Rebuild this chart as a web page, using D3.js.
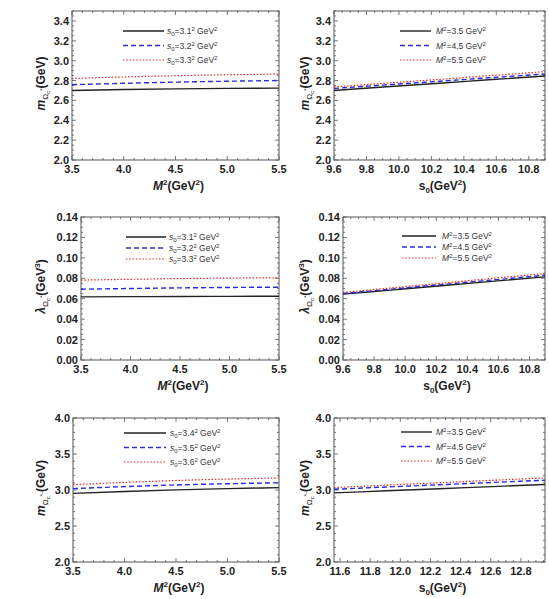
<!DOCTYPE html>
<html>
<head>
<meta charset="utf-8">
<title>Omega_c sum rules</title>
<script src="https://d3js.org/d3.v7.min.js"></script>
<style>
  body { margin: 0; background: #fff; }
  svg { display: block; }
  text { font-family: "Liberation Sans", Arial, sans-serif; }
  .tick-label { font-size: 11px; font-weight: bold; fill: #222; }
  .axis-title { font-size: 12px; font-weight: bold; fill: #222; }
  .legend-text { font-size: 8.5px; fill: #333; }
</style>
</head>
<body>
<svg width="549" height="599"></svg>
<script>
// x grids
const m2Grid = [3.5, 4.0, 4.5, 5.0, 5.5];
const s0GridTop = [9.6, 9.925, 10.25, 10.575, 10.9];
const s0GridBottom = [11.56, 11.91, 12.26, 12.61, 12.96];

// row 1: mass vs M^2 (s0 = 3.1^2, 3.2^2, 3.3^2)
const massVsM2_a = [2.700, 2.709, 2.716, 2.721, 2.724];
const massVsM2_b = [2.758, 2.772, 2.784, 2.793, 2.800];
const massVsM2_c = [2.820, 2.836, 2.849, 2.858, 2.865];
// row 1: mass vs s0 (M^2 = 3.5, 4.5, 5.5)
const massVsS0_a = [2.700, 2.737, 2.773, 2.810, 2.846];
const massVsS0_b = [2.720, 2.757, 2.793, 2.830, 2.866];
const massVsS0_c = [2.735, 2.774, 2.812, 2.851, 2.890];

// row 2: pole residue vs M^2
const lambdaVsM2_a = [0.0618, 0.0620, 0.0622, 0.0623, 0.0624];
const lambdaVsM2_b = [0.0693, 0.0700, 0.0706, 0.0710, 0.0713];
const lambdaVsM2_c = [0.0782, 0.0790, 0.0797, 0.0802, 0.0805];
// row 2: pole residue vs s0
const lambdaVsS0_a = [0.0645, 0.0687, 0.0729, 0.0772, 0.0814];
const lambdaVsS0_b = [0.0651, 0.0696, 0.0741, 0.0785, 0.0830];
const lambdaVsS0_c = [0.0661, 0.0708, 0.0754, 0.0801, 0.0847];

// row 3: mass vs M^2 (s0 = 3.4^2, 3.5^2, 3.6^2)
const mass2VsM2_a = [2.953, 2.980, 3.002, 3.019, 3.033];
const mass2VsM2_b = [3.019, 3.047, 3.070, 3.087, 3.100];
const mass2VsM2_c = [3.074, 3.106, 3.132, 3.152, 3.167];
// row 3: mass vs s0
const mass2VsS0_a = [2.960, 2.989, 3.018, 3.047, 3.076];
const mass2VsS0_b = [3.010, 3.042, 3.073, 3.105, 3.136];
const mass2VsS0_c = [3.034, 3.068, 3.101, 3.135, 3.168];

const legendS0Top = ["3.1", "3.2", "3.3"];
const legendS0Bottom = ["3.4", "3.5", "3.6"];
const legendM2 = ["3.5", "4.5", "5.5"];

const seriesStyles = [
  { color: "#222222", dash: null, width: 1.4 },
  { color: "#2b2bd6", dash: "5,3", width: 1.4 },
  { color: "#e02a2a", dash: "1.5,1.8", width: 1.2 }
];

const svg = d3.select("svg");

const panels = [
  { box: [72, 11, 279, 160], xGrid: m2Grid, xDom: [3.5, 5.5], xMajor: 0.5, xMinor: 0.1, xFmt: ".1f",
    yDom: [2.0, 3.5], yMajor: 0.2, yMinor: 0.05, yMax: 3.4, yFmt: ".1f", yTitleX: 45,
    series: [massVsM2_a, massVsM2_b, massVsM2_c], legend: "s0", legendVals: legendS0Top,
    leg: [123, 164, 167, 31, 14.5], xTitle: "M2", yTitle: "m", yKind: "*" },
  { box: [334, 11, 545, 160], xGrid: s0GridTop, xDom: [9.6, 10.9], xMajor: 0.2, xMinor: 0.05, xFmt: ".1f",
    yDom: [2.0, 3.5], yMajor: 0.2, yMinor: 0.05, yMax: 3.4, yFmt: ".1f", yTitleX: 309,
    series: [massVsS0_a, massVsS0_b, massVsS0_c], legend: "M2", legendVals: legendM2,
    leg: [400, 431, 436, 31, 14.5], xTitle: "s0", yTitle: "m", yKind: "*" },
  { box: [81, 217, 279, 360], xGrid: m2Grid, xDom: [3.5, 5.5], xMajor: 0.5, xMinor: 0.1, xFmt: ".1f",
    yDom: [0, 0.14], yMajor: 0.02, yMinor: 0.005, yMax: 0.14, yFmt: ".2f", yTitleX: 45,
    series: [lambdaVsM2_a, lambdaVsM2_b, lambdaVsM2_c], legend: "s0", legendVals: legendS0Top,
    leg: [126, 166, 169, 237, 11], xTitle: "M2", yTitle: "lambda", yKind: "*" },
  { box: [343, 217, 545, 360], xGrid: s0GridTop, xDom: [9.6, 10.9], xMajor: 0.2, xMinor: 0.05, xFmt: ".1f",
    yDom: [0, 0.14], yMajor: 0.02, yMinor: 0.005, yMax: 0.14, yFmt: ".2f", yTitleX: 309,
    series: [lambdaVsS0_a, lambdaVsS0_b, lambdaVsS0_c], legend: "M2", legendVals: legendM2,
    leg: [402, 436, 442, 236, 11], xTitle: "s0", yTitle: "lambda", yKind: "*" },
  { box: [73, 418, 279, 562], xGrid: m2Grid, xDom: [3.5, 5.5], xMajor: 0.5, xMinor: 0.1, xFmt: ".1f",
    yDom: [2.0, 4.0], yMajor: 0.5, yMinor: 0.1, yMax: 4.0, yFmt: ".1f", yTitleX: 45,
    series: [mass2VsM2_a, mass2VsM2_b, mass2VsM2_c], legend: "s0", legendVals: legendS0Bottom,
    leg: [124, 166, 170, 433, 14.5], xTitle: "M2", yTitle: "m", yKind: "*-" },
  { box: [334, 418, 545, 562], xGrid: s0GridBottom, xDom: [11.56, 12.96], xMajor: 0.2, xMinor: 0.05, xFmt: ".1f",
    yDom: [2.0, 4.0], yMajor: 0.5, yMinor: 0.1, yMax: 4.0, yFmt: ".1f", yTitleX: 309,
    series: [mass2VsS0_a, mass2VsS0_b, mass2VsS0_c], legend: "M2", legendVals: legendM2,
    leg: [401, 432, 436, 432, 14.5], xTitle: "s0", yTitle: "m", yKind: "*-" }
];

function ticksBetween(dom, step) {
  const out = [];
  const start = Math.ceil(dom[0] / step - 1e-6);
  const end = Math.floor(dom[1] / step + 1e-6);
  for (let i = start; i <= end; i++) out.push(+(i * step).toFixed(6));
  return out;
}

panels.forEach(p => {
  const [x0, y0, x1, y1] = p.box;
  const x = d3.scaleLinear().domain(p.xDom).range([x0, x1]);
  const y = d3.scaleLinear().domain(p.yDom).range([y1, y0]);
  const g = svg.append("g");

  // frame
  g.append("rect").attr("x", x0).attr("y", y0).attr("width", x1 - x0).attr("height", y1 - y0)
    .attr("fill", "none").attr("stroke", "#555").attr("stroke-width", 1);

  // ticks on all four sides, pointing inwards
  const xMaj = ticksBetween(p.xDom, p.xMajor);
  const xMin = ticksBetween(p.xDom, p.xMinor);
  const yMaj = ticksBetween(p.yDom, p.yMajor);
  const yMin = ticksBetween(p.yDom, p.yMinor);
  const tk = g.append("g").attr("stroke", "#555").attr("stroke-width", 0.8);
  xMin.forEach(v => {
    const len = xMaj.some(m => Math.abs(m - v) < 1e-6) ? 4 : 2;
    tk.append("line").attr("x1", x(v)).attr("x2", x(v)).attr("y1", y1).attr("y2", y1 - len);
    tk.append("line").attr("x1", x(v)).attr("x2", x(v)).attr("y1", y0).attr("y2", y0 + len);
  });
  yMin.forEach(v => {
    const len = yMaj.some(m => Math.abs(m - v) < 1e-6) ? 4 : 2;
    tk.append("line").attr("y1", y(v)).attr("y2", y(v)).attr("x1", x0).attr("x2", x0 + len);
    tk.append("line").attr("y1", y(v)).attr("y2", y(v)).attr("x1", x1).attr("x2", x1 - len);
  });

  // tick labels
  const fx = d3.format(p.xFmt), fy = d3.format(p.yFmt);
  xMaj.forEach(v => {
    g.append("text").attr("class", "tick-label").attr("x", x(v)).attr("y", y1 + 13)
      .attr("text-anchor", "middle").text(fx(v));
  });
  yMaj.filter(v => v <= p.yMax + 1e-6).forEach(v => {
    g.append("text").attr("class", "tick-label").attr("x", x0 - 3).attr("y", y(v) + 4)
      .attr("text-anchor", "end").text(fy(v));
  });

  // curves
  const line = d3.line().x((d, i) => x(p.xGrid[i])).y(d => y(d)).curve(d3.curveMonotoneX);
  p.series.forEach((s, i) => {
    const st = seriesStyles[i];
    g.append("path").datum(s).attr("d", line).attr("fill", "none")
      .attr("stroke", st.color).attr("stroke-width", st.width)
      .attr("stroke-dasharray", st.dash);
  });

  // legend
  const [lx0, lx1, tx, ly, dy] = p.leg;
  p.legendVals.forEach((v, i) => {
    const st = seriesStyles[i];
    const yy = ly + i * dy;
    g.append("line").attr("x1", lx0).attr("x2", lx1).attr("y1", yy).attr("y2", yy)
      .attr("stroke", st.color).attr("stroke-width", st.width).attr("stroke-dasharray", st.dash);
    const t = g.append("text").attr("class", "legend-text").attr("x", tx).attr("y", yy + 3);
    if (p.legend === "s0") {
      t.append("tspan").style("font-style", "italic").text("s");
      t.append("tspan").attr("dy", 2).style("font-size", "6px").text("0");
      t.append("tspan").attr("dy", -2).text("=" + v);
      t.append("tspan").attr("dy", -3).style("font-size", "6px").text("2");
      t.append("tspan").attr("dy", 3).text(" GeV");
      t.append("tspan").attr("dy", -3).style("font-size", "6px").text("2");
    } else {
      t.append("tspan").style("font-style", "italic").text("M");
      t.append("tspan").attr("dy", -3).style("font-size", "6px").text("2");
      t.append("tspan").attr("dy", 3).text("=" + v + " GeV");
      t.append("tspan").attr("dy", -3).style("font-size", "6px").text("2");
    }
  });

  // x title
  const xt = g.append("text").attr("class", "axis-title").attr("x", (x0 + x1) / 2 + 3).attr("y", y1 + 30)
    .attr("text-anchor", "middle");
  if (p.xTitle === "M2") {
    xt.append("tspan").style("font-style", "italic").text("M");
    xt.append("tspan").attr("dy", -5).style("font-size", "8px").text("2");
    xt.append("tspan").attr("dy", 5).text("(GeV");
  } else {
    xt.append("tspan").text("s");
    xt.append("tspan").attr("dy", 3).style("font-size", "8px").text("0");
    xt.append("tspan").attr("dy", -3).text("(GeV");
  }
  xt.append("tspan").attr("dy", -5).style("font-size", "8px").text("2");
  xt.append("tspan").attr("dy", 5).text(")");

  // y title (rotated)
  const cx = p.yTitleX, cy = (y0 + y1) / 2 - 2;
  const yt = g.append("text").attr("class", "axis-title")
    .attr("transform", `translate(${cx},${cy}) rotate(-90)`).attr("text-anchor", "middle");
  if (p.yTitle === "m") {
    yt.append("tspan").style("font-style", "italic").text("m");
  } else {
    yt.append("tspan").style("font-style", "italic").text("λ");
  }
  yt.append("tspan").attr("dy", 3).style("font-size", "8px").style("font-weight", "normal").text("Ω");
  yt.append("tspan").attr("dy", 2).style("font-size", "6px").style("font-weight", "normal").text("c");
  yt.append("tspan").attr("dy", -6).style("font-size", "6px").style("font-weight", "normal").text(p.yKind);
  if (p.yTitle === "m") {
    yt.append("tspan").attr("dy", 1).text("(GeV)");
  } else {
    yt.append("tspan").attr("dy", 1).text("(GeV");
    yt.append("tspan").attr("dy", -5).style("font-size", "8px").text("3");
    yt.append("tspan").attr("dy", 5).text(")");
  }
});
</script>
</body>
</html>
